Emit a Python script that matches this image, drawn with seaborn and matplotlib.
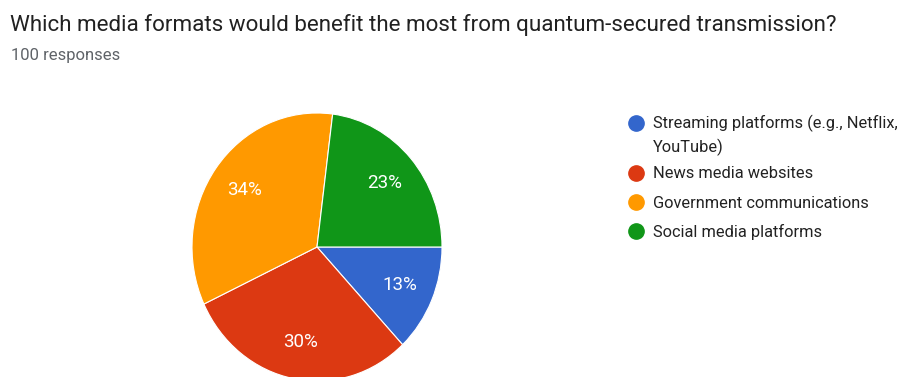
import matplotlib
matplotlib.use("Agg")
import matplotlib.pyplot as plt
import seaborn as sns
from matplotlib.lines import Line2D

categories = ["Streaming platforms (e.g., Netflix,\nYouTube)", "News media websites",
              "Government communications", "Social media platforms"]
values = [13, 30, 34, 23]
colors = ["#3366CC", "#DC3912", "#FF9900", "#109618"]
title = "Which media formats would benefit the most from quantum-secured transmission?"
subtitle = "100 responses"

sns.set_theme(style="white")
plt.rcParams['font.family'] = ['Roboto', 'DejaVu Sans']

W, H = 905, 377
fig = plt.figure(figsize=(W / 100, H / 100), dpi=100)
fig.patch.set_facecolor("white")

# pie axes (pixel geometry of the reference)
left, top, w, h = 192, 113, 250, 268
ax = fig.add_axes([left / W, (H - top - h) / H, w / W, h / H])
wedges, texts, autotexts = ax.pie(
    values, colors=colors, startangle=0, counterclock=False,
    autopct=lambda p: f"{p:.0f}%", pctdistance=0.72,
    wedgeprops=dict(edgecolor="white", linewidth=0.8),
    textprops=dict(color="white", fontsize=13.5))
ax.set_xlim(-1, 1)
ax.set_ylim(-1, 1)
ax.set_aspect("auto")
ax.axis("off")

fig.text(10 / W, 1 - 31 / H, title, fontsize=16.1, color="#212121", va="baseline", ha="left")
fig.text(11 / W, 1 - 60 / H, subtitle, fontsize=12, color="#5f6368", va="baseline", ha="left")

# legend
ys = [123, 173, 202, 231]
for cat, col, y in zip(categories, colors, ys):
    fig.add_artist(Line2D([636 / W], [1 - y / H], marker="o", markersize=11,
                          color=col, linestyle="none", transform=fig.transFigure))
    for i, line in enumerate(cat.split("\n")):
        fig.text(653 / W, 1 - (y + 5.5 + i * 24) / H, line, fontsize=11.8,
                 color="#222222", va="baseline", ha="left")

fig.savefig("out.png", dpi=100)
